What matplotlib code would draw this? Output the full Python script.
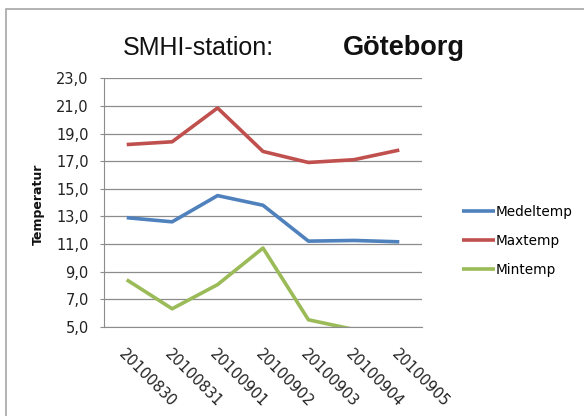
import matplotlib
matplotlib.use('Agg')
import matplotlib.pyplot as plt
from matplotlib.patches import Rectangle
from matplotlib.ticker import FuncFormatter

# Data
datum = ['20100830', '20100831', '20100901', '20100902', '20100903', '20100904', '20100905']
medeltemp = [12.9, 12.6, 14.5, 13.8, 11.2, 11.25, 11.15]
maxtemp = [18.2, 18.4, 20.85, 17.7, 16.9, 17.1, 17.8]
mintemp = [8.4, 6.3, 8.05, 10.7, 5.5, 4.8, 4.5]
y_ticks = [5, 7, 9, 11, 13, 15, 17, 19, 21, 23]

plt.rcParams['font.family'] = ['DejaVu Sans']

fig = plt.figure(figsize=(5.84, 4.16), dpi=100)
fig.patch.set_facecolor('white')

# Ram runt diagrammet (Excel-stil)
fig.patches.append(Rectangle((6 / 584, -0.05), 1.1, 1 - 9 / 416 + 0.05,
                             transform=fig.transFigure, fill=False,
                             edgecolor='#a6a6a6', linewidth=1.2))

ax = fig.add_axes([104 / 584, 1 - 326.7 / 416, (422 - 104) / 584, (326.7 - 78.3) / 416])

x = range(len(datum))
ax.plot(x, medeltemp, color='#4F81BD', linewidth=2.6, label='Medeltemp', solid_capstyle='butt')
ax.plot(x, maxtemp, color='#C0504D', linewidth=2.6, label='Maxtemp', solid_capstyle='butt')
ax.plot(x, mintemp, color='#9BBB59', linewidth=2.6, label='Mintemp', solid_capstyle='butt')

ax.set_xlim(-0.5, len(datum) - 0.5)
ax.set_ylim(5, 23)
ax.set_yticks(y_ticks)
ax.yaxis.set_major_formatter(FuncFormatter(lambda v, p: f'{v:.1f}'.replace('.', ',')))
ax.grid(axis='y', color='#8c8c8c', linewidth=0.9)
ax.set_axisbelow(True)

for s in ['top', 'right']:
    ax.spines[s].set_visible(False)
ax.spines['left'].set_color('#8c8c8c')
ax.spines['bottom'].set_color('#8c8c8c')

ax.tick_params(axis='y', length=3, color='#8c8c8c', pad=8, labelsize=10.5, labelcolor='#222222')
ax.tick_params(axis='x', length=0, pad=14, labelsize=10.5, labelcolor='#222222')
ax.set_xticks(list(x))
ax.set_xticklabels(datum, rotation=-45, ha='left', va='top', rotation_mode='anchor')

# Titel
fig.text(123 / 584, 1 - 55 / 416, 'SMHI-station:', fontsize=18,
         family=['Liberation Sans', 'DejaVu Sans'], va='baseline', ha='left', color='#111111')
fig.text(343 / 584, 1 - 55 / 416, 'Göteborg', fontsize=19.5, fontweight='bold',
         family=['Liberation Sans', 'DejaVu Sans'], va='baseline', ha='left', color='#111111')

# Y-axelns etikett
fig.text(38 / 584, 1 - 204 / 416, 'Temperatur', rotation=90, fontsize=9,
         fontweight='bold', ha='center', va='center', color='#111111')

# Legend
fig.legend(loc='center left', bbox_to_anchor=(462 / 584, 1 - 241 / 416), frameon=False,
           fontsize=9.8, handlelength=2.4, handletextpad=0.1, labelspacing=1.1,
           borderaxespad=0, borderpad=0)

fig.savefig('out.png', dpi=100, facecolor='white')
